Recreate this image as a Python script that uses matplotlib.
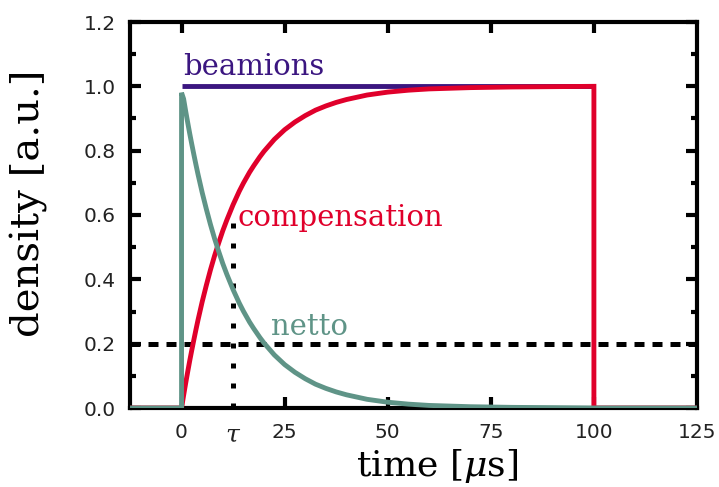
import numpy as np
import matplotlib
matplotlib.use("Agg")
import matplotlib.pyplot as plt

plt.rcParams['mathtext.fontset'] = 'dejavuserif'

# ---- data ----
tau = 12.5
t_curve = [0, 0.5, 1, 1.5, 2, 2.5, 3, 3.5, 4, 5, 6, 7, 8, 9, 10, 11, 12.5, 14, 15,
           16.5, 17.5, 19, 20, 22.5, 25, 27.5, 30, 32.5, 35, 37.5, 40, 45, 50, 55,
           60, 65, 70, 80, 90, 100]
netto_vals = [0.98, 0.961, 0.923, 0.887, 0.852, 0.819, 0.787, 0.756, 0.726, 0.670,
              0.619, 0.571, 0.527, 0.487, 0.449, 0.415, 0.368, 0.326, 0.301, 0.267,
              0.247, 0.219, 0.202, 0.165, 0.135, 0.111, 0.091, 0.074, 0.061, 0.050,
              0.041, 0.027, 0.018, 0.012, 0.008, 0.006, 0.004, 0.002, 0.001, 0.0]
comp_vals = [0.0, 0.039, 0.077, 0.113, 0.148, 0.181, 0.213, 0.244, 0.274, 0.330,
             0.381, 0.429, 0.473, 0.513, 0.551, 0.585, 0.632, 0.674, 0.699, 0.733,
             0.753, 0.781, 0.798, 0.835, 0.865, 0.889, 0.909, 0.926, 0.939, 0.950,
             0.959, 0.973, 0.982, 0.988, 0.992, 0.994, 0.996, 0.998, 0.999, 1.0]
beam_t = [0, 100]
beam_vals = [1.0, 1.0]
t_start, t_end = -12.5, 125
pulse_end = 100
threshold = 0.2
tau_line_top = 0.59

xticks = [0, tau, 25, 50, 75, 100, 125]
xticklabels = ['0', r'$\tau$', '25', '50', '75', '100', '125']
yticks = [0.0, 0.2, 0.4, 0.6, 0.8, 1.0, 1.2]
yticklabels = ['0.0', '0.2', '0.4', '0.6', '0.8', '1.0', '1.2']

purple = '#3b1680'
red = '#e0002b'
green = '#5f9487'

fig = plt.figure(figsize=(7.19, 4.87), dpi=100)
ax = fig.add_axes([130/719, 1-408/487, (697-130)/719, (408-22)/487])

# reference lines
ax.axhline(threshold, color='black', lw=3.6, dashes=(2.0, 1.6), zorder=1)
ax.plot([tau, tau], [0, tau_line_top], color='black', lw=3.6, dashes=(1.0, 3.0),
        zorder=1)

# compensation (red)
comp_t = [t_start] + t_curve + [pulse_end, t_end]
comp_y = [0.0] + comp_vals + [0.0, 0.0]
# netto (green)
net_t = [t_start, 0] + t_curve + [t_end]
net_y = [0.0, 0.0] + netto_vals + [0.0]

ax.plot(beam_t, beam_vals, color=purple, lw=3.5, zorder=2, solid_capstyle='butt')
ax.plot(comp_t, comp_y, color=red, lw=3.5, zorder=3, solid_joinstyle='miter')
ax.plot(net_t, net_y, color=green, lw=3.5, zorder=4, solid_joinstyle='miter')

tfont = dict(family='DejaVu Serif', fontsize=21)
ax.text(0.4, 1.035, 'beamions', color=purple, va='baseline', ha='left', **tfont)
ax.text(13.6, 0.565, 'compensation', color=red, va='baseline', ha='left', **tfont)
ax.text(21.8, 0.227, 'netto', color=green, va='baseline', ha='left', **tfont)

ax.set_xlim(t_start, t_end)
ax.set_ylim(0, 1.2)
ax.set_xticks(xticks)
ax.set_xticklabels(xticklabels)
ax.set_yticks(yticks)
ax.set_yticklabels(yticklabels)
ax.set_yticks(np.arange(0.1, 1.2, 0.2), minor=True)

for sp in ax.spines.values():
    sp.set_linewidth(3)
ax.tick_params(axis='both', which='major', direction='in', length=8, width=3,
               labelsize=14.5, labelcolor='#222222', pad=10)
ax.tick_params(axis='both', which='minor', direction='in', length=4.5, width=3)
ax.tick_params(axis='x', top=True, pad=11)
ax.tick_params(axis='y', right=True, which='both')
for tk in ax.xaxis.get_major_ticks():
    if abs(tk.get_loc() - tau) < 1e-9 or abs(tk.get_loc() - t_end) < 1e-9:
        tk.tick1line.set_visible(False)
        tk.tick2line.set_visible(False)
    if abs(tk.get_loc() - tau) < 1e-9:
        tk.label1.set_fontsize(18)

fig.text(437/719, 1-476/487, r'time [$\mu$s]', ha='center', va='baseline',
         family='DejaVu Serif', fontsize=26)
fig.text(40/719, 1-203/487, 'density [a.u.]', ha='center', va='baseline',
         rotation=90, rotation_mode='anchor', family='DejaVu Serif', fontsize=29)

fig.savefig('out.png', dpi=100)
